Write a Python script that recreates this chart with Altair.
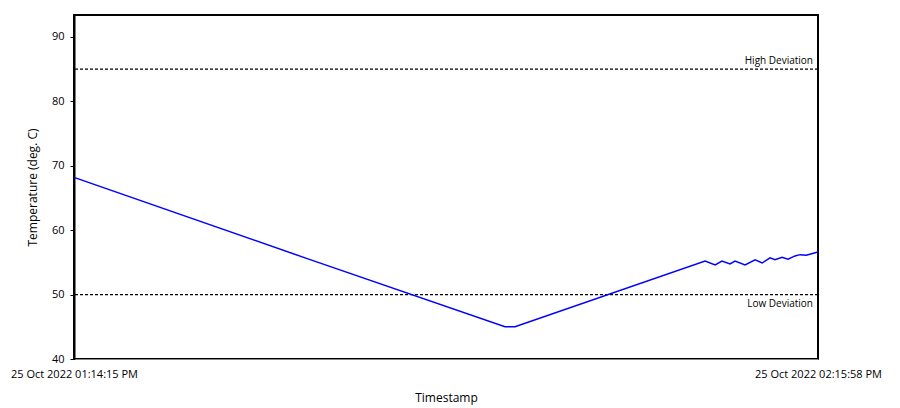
import altair as alt
import pandas as pd

times = [
    "2022-10-25T13:14:15", "2022-10-25T13:33:25", "2022-10-25T13:50:00",
    "2022-10-25T13:50:50", "2022-10-25T14:06:36", "2022-10-25T14:07:26",
    "2022-10-25T14:08:00", "2022-10-25T14:08:40", "2022-10-25T14:09:05",
    "2022-10-25T14:09:55", "2022-10-25T14:10:45", "2022-10-25T14:11:20",
    "2022-10-25T14:11:59", "2022-10-25T14:12:24", "2022-10-25T14:12:59",
    "2022-10-25T14:13:29", "2022-10-25T14:14:04", "2022-10-25T14:14:29",
    "2022-10-25T14:14:59", "2022-10-25T14:15:58",
]
temps = [68.2, 55.7, 45.0, 45.0, 55.2, 54.6, 55.2, 54.75, 55.2, 54.6,
         55.4, 54.9, 55.7, 55.4, 55.8, 55.5, 56.0, 56.2, 56.1, 56.6]

limit_values = [85, 50]
limit_labels = ["High Deviation", "Low Deviation"]

x_start = "2022-10-25T13:14:15"
x_end = "2022-10-25T14:15:58"

df = pd.DataFrame({"t": times, "temp": temps})
lim = pd.DataFrame({"v": limit_values, "label": limit_labels})

FONT = "Open Sans"

x_scale = alt.Scale(domain=[x_start, x_end], nice=False)
y_scale = alt.Scale(domain=[40, 93.4], nice=False, zero=False)

line = alt.Chart(df).mark_line(color="#0000ff", strokeWidth=1.5).encode(
    x=alt.X("t:T", scale=x_scale, title="Timestamp",
            axis=alt.Axis(
                values=[alt.DateTime(year=2022, month=10, date=25, hours=13, minutes=14, seconds=15),
                        alt.DateTime(year=2022, month=10, date=25, hours=14, minutes=15, seconds=58)],
                format="%d %b %Y %I:%M:%S %p", grid=False, ticks=False,
                labelFlush=False, labelPadding=9, titlePadding=13,
                domainColor="#888888", domainWidth=1,
                labelFont=FONT, titleFont=FONT, labelFontSize=11, titleFontSize=12,
                labelColor="black", titleColor="black", titleFontWeight="normal")),
    y=alt.Y("temp:Q", scale=y_scale, title="Temperature (deg. C)",
            axis=alt.Axis(values=[40, 50, 60, 70, 80, 90], grid=False,
                          tickSize=4, tickColor="black", domainColor="black",
                          domainWidth=2, labelPadding=6, titlePadding=12,
                          labelFont=FONT, titleFont=FONT, labelFontSize=11,
                          titleFontSize=12, labelColor="black", titleColor="black",
                          titleFontWeight="normal")),
)

rules = alt.Chart(lim).mark_rule(color="black", strokeDash=[3, 2], strokeWidth=1.2).encode(
    y=alt.Y("v:Q", scale=y_scale)
)

text_hi = alt.Chart(lim).transform_filter(alt.datum.v == 85).mark_text(
    align="right", baseline="bottom", dy=-3, font=FONT, fontSize=10, color="black"
).encode(x=alt.value(739), y=alt.Y("v:Q", scale=y_scale), text="label:N")

text_lo = alt.Chart(lim).transform_filter(alt.datum.v == 50).mark_text(
    align="right", baseline="top", dy=4, font=FONT, fontSize=10, color="black"
).encode(x=alt.value(739), y=alt.Y("v:Q", scale=y_scale), text="label:N")

chart = alt.layer(rules, line, text_hi, text_lo).properties(
    width=744, height=344,
    autosize=alt.AutoSizeParams(type="none"),
    padding={"left": 66, "top": 7, "right": 70, "bottom": 48},
).configure_view(stroke="black", strokeWidth=2)

chart.save("out.html", embed_options={"renderer": "svg", "actions": False})
